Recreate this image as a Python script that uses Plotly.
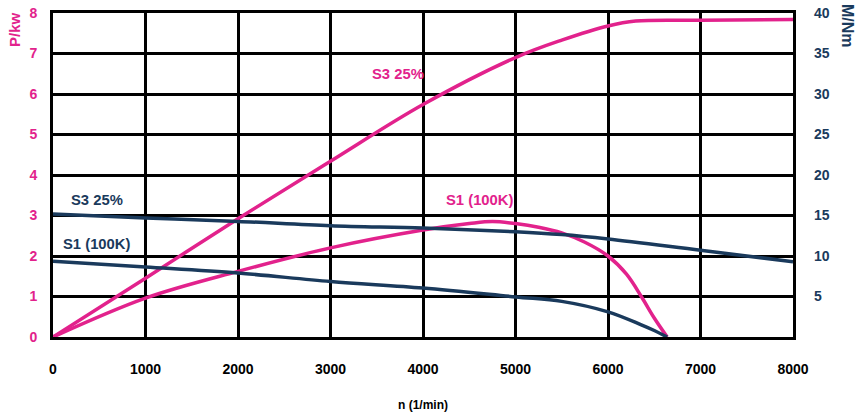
import plotly.graph_objects as go

MAGENTA = "#e2228c"
NAVY = "#1a3a5c"

# speed (1/min) and power (kW) for S3 25%
n_s3_p = [0, 1000, 2000, 3000, 4000, 5000, 5500, 6000, 6300, 7000, 8000]
p_s3 = [0, 1.45, 2.92, 4.34, 5.74, 6.9, 7.33, 7.68, 7.8, 7.82, 7.84]

# power (kW) for S1 (100K)
n_s1_p = [0, 1000, 2000, 3000, 4000, 4500, 4750, 5000, 5250, 5500, 5750, 6000, 6200, 6360, 6500, 6640]
p_s1 = [0, 0.96, 1.62, 2.2, 2.64, 2.8, 2.85, 2.8, 2.71, 2.57, 2.34, 2.0, 1.55, 1.0, 0.47, 0]

# torque (Nm) for S3 25%
n_s3_m = [0, 1000, 2000, 3000, 4000, 5000, 5500, 6000, 7000, 8000]
m_s3 = [15.2, 14.7, 14.27, 13.75, 13.45, 13.0, 12.65, 12.1, 10.7, 9.3]

# torque (Nm) for S1 (100K)
n_s1_m = [0, 1000, 2000, 3000, 4000, 5000, 5500, 6000, 6360, 6500, 6640]
m_s1 = [9.35, 8.65, 7.9, 6.85, 6.05, 4.95, 4.4, 3.1, 1.5, 0.8, 0]

x_ticks = [0, 1000, 2000, 3000, 4000, 5000, 6000, 7000, 8000]
p_ticks = [0, 1, 2, 3, 4, 5, 6, 7, 8]
m_ticks = [5, 10, 15, 20, 25, 30, 35, 40]

FONT = "Liberation Sans"
LBL = 14.8

fig = go.Figure()
fig.add_trace(go.Scatter(x=n_s3_m, y=m_s3, yaxis="y2", mode="lines",
                         line=dict(color=NAVY, width=3.5, shape="spline"), showlegend=False))
fig.add_trace(go.Scatter(x=n_s1_m, y=m_s1, yaxis="y2", mode="lines",
                         line=dict(color=NAVY, width=3.5, shape="spline"), showlegend=False))
fig.add_trace(go.Scatter(x=n_s3_p, y=p_s3, mode="lines",
                         line=dict(color=MAGENTA, width=3.5, shape="spline"), showlegend=False))
fig.add_trace(go.Scatter(x=n_s1_p, y=p_s1, mode="lines",
                         line=dict(color=MAGENTA, width=3.5, shape="spline"), showlegend=False))

fig.update_layout(
    width=866, height=416,
    margin=dict(l=53, r=73, t=13, b=79),
    paper_bgcolor="white", plot_bgcolor="white",
    font=dict(family=FONT, size=14, color="black"),
    xaxis=dict(range=[0, 8000], tickvals=x_ticks, showgrid=True, gridcolor="black", gridwidth=3,
               showline=True, linecolor="black", linewidth=3, mirror=True, zeroline=False,
               ticks="", ticklabelstandoff=17, automargin=False,
               tickfont=dict(family=FONT, size=14, color="black", weight="bold"),
               title=dict(text="n (1/min)", font=dict(family=FONT, size=12, color="black", weight="bold"),
                          standoff=25)),
    yaxis=dict(range=[0, 8], tickvals=p_ticks, showgrid=True, gridcolor="black", gridwidth=3,
               showline=True, linecolor="black", linewidth=3, mirror=True, zeroline=False,
               ticks="", ticklabelstandoff=10, automargin=False,
               tickfont=dict(family=FONT, size=14, color=MAGENTA, weight="bold")),
    yaxis2=dict(range=[0, 40], tickvals=m_ticks, overlaying="y", side="right", showgrid=False,
                zeroline=False, ticks="", ticklabelstandoff=20, automargin=False,
                tickfont=dict(family=FONT, size=14, color=NAVY, weight="bold")),
    annotations=[
        dict(text="P/kw", xref="paper", yref="paper", x=-0.053, y=1.01, xanchor="center", yanchor="top",
             textangle=-90, showarrow=False, font=dict(family=FONT, size=15, color=MAGENTA, weight="bold")),
        dict(text="M/Nm", xref="paper", yref="paper", x=1.074, y=1.035, xanchor="center", yanchor="top",
             textangle=90, showarrow=False, font=dict(family=FONT, size=16, color=NAVY, weight="bold")),
        dict(text="S3 25%", x=3730, y=6.49, showarrow=False,
             font=dict(family=FONT, size=LBL, color=MAGENTA, weight="bold")),
        dict(text="S1 (100K)", x=4616, y=3.38, showarrow=False,
             font=dict(family=FONT, size=LBL, color=MAGENTA, weight="bold")),
        dict(text="S3 25%", x=476, y=3.38, showarrow=False,
             font=dict(family=FONT, size=LBL, color=NAVY, weight="bold")),
        dict(text="S1 (100K)", x=476, y=2.30, showarrow=False,
             font=dict(family=FONT, size=LBL, color=NAVY, weight="bold")),
    ],
)

fig.write_html("out.html", config={"displayModeBar": False},
               post_script="document.body.style.margin='0';")
